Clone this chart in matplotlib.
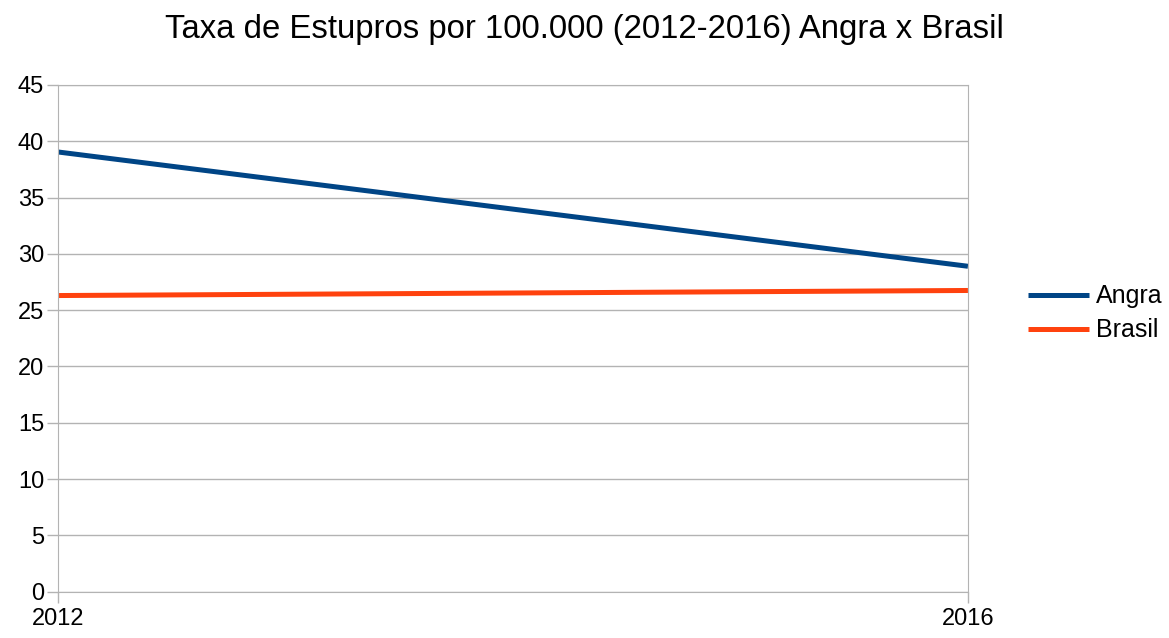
import matplotlib
matplotlib.use("Agg")
import matplotlib.pyplot as plt

years = [2012, 2016]
angra = [39.05, 28.9]
brasil = [26.3, 26.75]

plt.rcParams['font.family'] = ['Liberation Sans', 'DejaVu Sans']

fig = plt.figure(figsize=(11.69, 6.38), dpi=100)
ax = fig.add_axes([0.0496, 0.0726, 0.7784, 0.7942])

ax.plot(years, angra, color='#004586', lw=3.6, label='Angra', solid_capstyle='butt')
ax.plot(years, brasil, color='#ff420e', lw=3.6, label='Brasil', solid_capstyle='butt')

ax.set_xlim(2012, 2016)
ax.set_ylim(0, 45)
ax.set_xticks(years)
ax.set_yticks(range(0, 46, 5))
ax.grid(axis='y', color='#b3b3b3', lw=1)
ax.set_axisbelow(True)
for s in ax.spines.values():
    s.set_color('#b3b3b3')
ax.tick_params(colors='#b3b3b3', labelcolor='black', labelsize=17, length=8, width=1)
ax.tick_params(axis='y', pad=2)

fig.text(0.5, 0.953, 'Taxa de Estupros por 100.000 (2012-2016) Angra x Brasil',
         fontsize=23.7, ha='center', va='center')

fig.legend(loc='center left', bbox_to_anchor=(0.879, 0.509), frameon=False,
           borderpad=0, borderaxespad=0,
           fontsize=18, handlelength=2.45, handletextpad=0.28, labelspacing=0.4)

fig.savefig('out.png', dpi=100)
